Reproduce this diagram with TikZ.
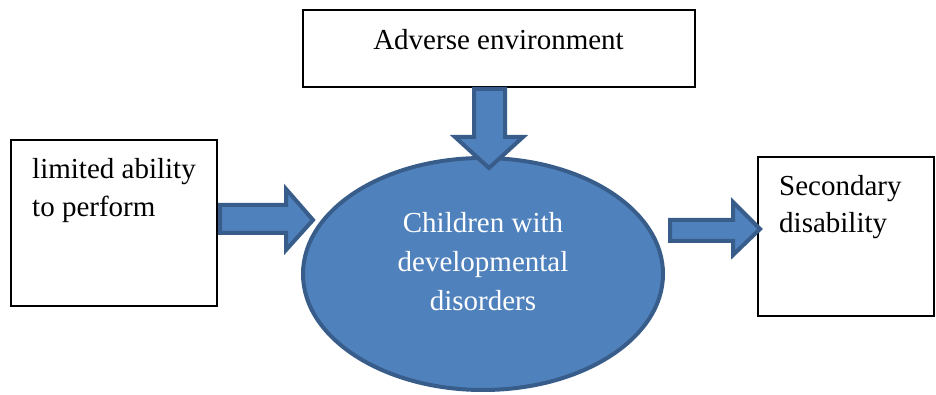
\documentclass[tikz,border=0pt]{standalone}
\usepackage{fontspec}
\setmainfont{Liberation Serif}
\usetikzlibrary{shapes.geometric}
\definecolor{fillblue}{HTML}{4F81BD}
\definecolor{edgeblue}{HTML}{385D8A}
\tikzset{
  box/.style={draw=black, line width=2pt, fill=white, inner sep=0pt},
  blockarrow/.style={draw=edgeblue, fill=fillblue, line width=4pt, line join=miter},
  txt/.style={font=\fontsize{29}{38}\selectfont, inner sep=0pt, align=left},
}
\begin{document}
\begin{tikzpicture}[x=1pt, y=-1pt]
\useasboundingbox (0,0) rectangle (936,395);
% boxes
\node[box, minimum width=392pt, minimum height=77pt] (top) at (499,48.5) {};
\node[box, minimum width=206pt, minimum height=166pt] (left) at (114,223) {};
\node[box, minimum width=176pt, minimum height=159pt] (right) at (846,236.5) {};
% ellipse
\node[ellipse, draw=edgeblue, fill=fillblue, line width=4pt, minimum width=360pt, minimum height=232pt, inner sep=0pt] (ell) at (483,274) {};
% block arrows
\draw[blockarrow] (220,205) -- (286,205) -- (286,189) -- (313,220) -- (286,250) -- (286,233) -- (220,233) -- cycle;
\draw[blockarrow] (474,89) -- (505,89) -- (505,137) -- (523,137) -- (489,168) -- (455,137) -- (474,137) -- cycle;
\draw[blockarrow] (670,220) -- (733,220) -- (733,202) -- (760,229) -- (733,255) -- (733,241) -- (670,241) -- cycle;
% texts
\node[txt, anchor=base] (toptext) at (498.5,50) {Adverse environment};
\node[txt, anchor=base west] (lefttext) at (32,217) {limited ability\\to perform};
\node[txt, anchor=base west, font=\fontsize{29}{37}\selectfont] (righttext) at (779,233) {Secondary\\disability};
\node[txt, anchor=base, align=center, text=white, font=\fontsize{29}{39}\selectfont] (elltext) at (483,310) {Children with\\developmental\\disorders};
\end{tikzpicture}
\end{document}
